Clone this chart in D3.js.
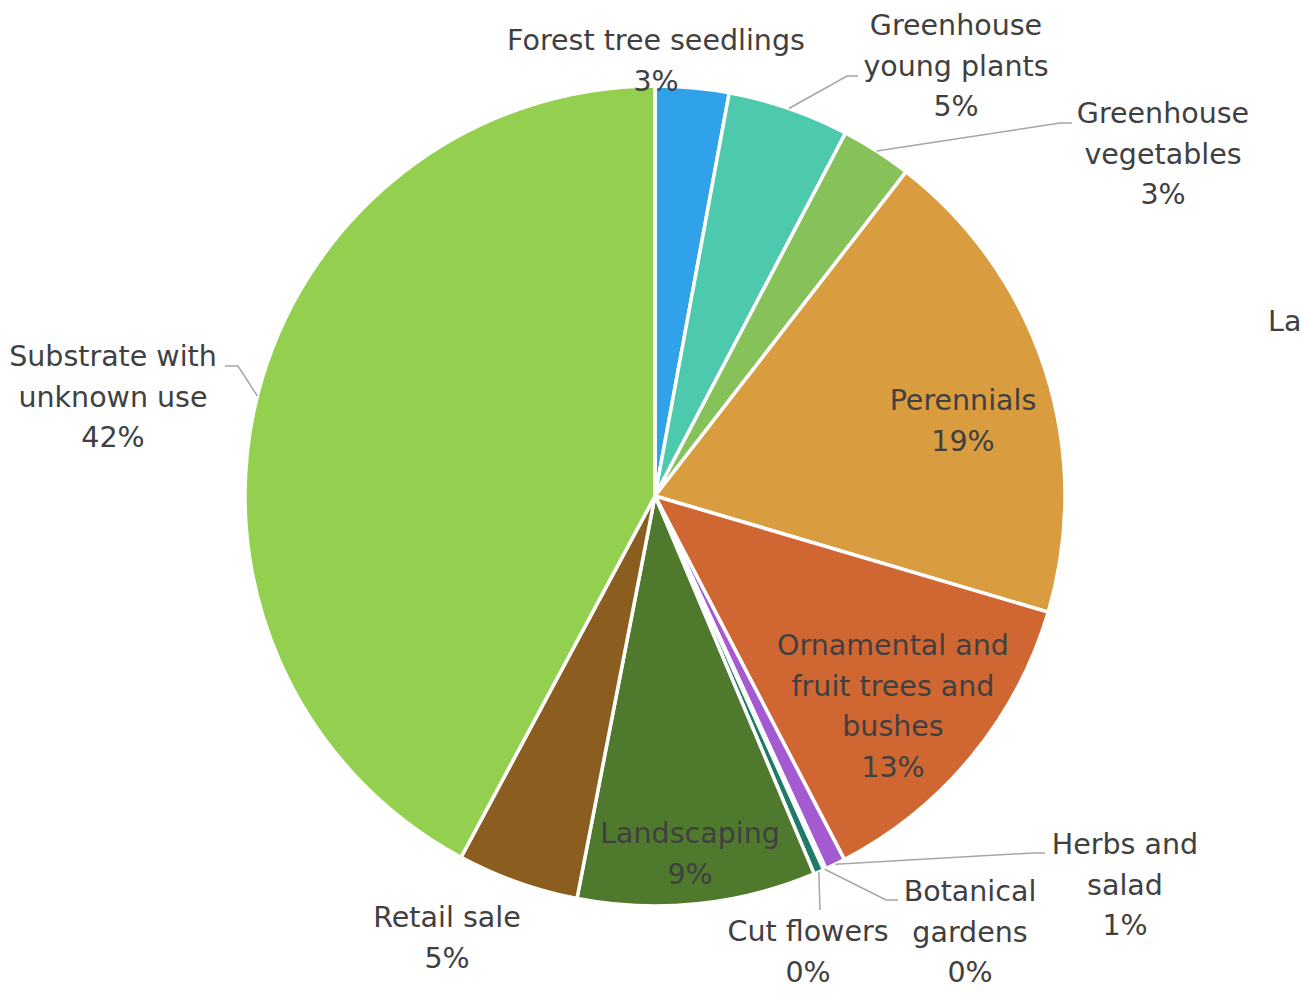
<!DOCTYPE html>
<html><head><meta charset="utf-8">
<script src="https://cdn.jsdelivr.net/npm/d3@7"></script>
<style>html,body{margin:0;padding:0;background:#fff;overflow:hidden}</style>
</head><body>
<svg id="chart" width="1301" height="998"></svg>
<script>
const categories = ["Forest tree seedlings","Greenhouse young plants","Greenhouse vegetables","Perennials","Ornamental and fruit trees and bushes","Herbs and salad","Botanical gardens","Cut flowers","Landscaping","Retail sale","Substrate with unknown use"];
const values = [2.9, 4.8, 2.8, 19.1, 12.8, 0.8, 0.1, 0.4, 9.4, 4.8, 42.2];
const percentLabels = ["3%","5%","3%","19%","13%","1%","0%","0%","9%","5%","42%"];
const labelLines = [["Forest tree seedlings"],["Greenhouse","young plants"],["Greenhouse","vegetables"],["Perennials"],["Ornamental and","fruit trees and","bushes"],["Herbs and","salad"],["Botanical","gardens"],["Cut flowers"],["Landscaping"],["Retail sale"],["Substrate with","unknown use"]];
const colors = ["#30a2e9","#4dc9ae","#86c159","#d99c3f","#d06733","#a45bd2","#6a9ec0","#1e7b66","#4f7a2d","#8b5e1f","#93d050"];

// layout (label anchor = centre x, first-line centre y; elbow = leader line bend)
const layout = [
  {x:656, y:40, line:false},
  {x:956, y:25, elbow:[847,76], end:[858,76], line:true},
  {x:1163, y:113, elbow:[1060,123], end:[1072,123], line:true},
  {x:963, y:400, line:false},
  {x:893, y:645, line:false},
  {x:1125, y:844, elbow:[1033,853], end:[1045,853], line:true},
  {x:970, y:891, elbow:[886,900], end:[898,900], line:true},
  {x:808, y:931, elbow:[820,910], end:[820,910], line:true},
  {x:690, y:833, line:false},
  {x:447, y:917, line:false},
  {x:113, y:356, elbow:[238,366], end:[225,366], line:true}
];

const svg = d3.select("#chart");
const cx = 655, cy = 496, R = 410;
const g = svg.append("g").attr("transform", `translate(${cx},${cy})`);
const pie = d3.pie().sort(null).value(d => d)(values);
const arc = d3.arc().innerRadius(0).outerRadius(R);

g.selectAll("path.slice").data(pie).enter().append("path")
  .attr("class","slice")
  .attr("d", arc)
  .attr("fill", (d,i) => colors[i])
  .attr("stroke", "#fff")
  .attr("stroke-width", 3.5)
  .attr("stroke-linejoin","round");

// leader lines
const lineG = svg.append("g");
pie.forEach((d,i) => {
  const L = layout[i];
  if (!L.line) return;
  const a = (d.startAngle + d.endAngle)/2;
  const sx = cx + Math.sin(a)*R, sy = cy - Math.cos(a)*R;
  const pts = [[sx,sy], L.elbow, L.end];
  lineG.append("path")
    .attr("d", d3.line()(pts))
    .attr("fill","none")
    .attr("stroke","#a6a6a6")
    .attr("stroke-width",1.5);
});

// labels
const fontFam = "'DejaVu Sans', 'Noto Sans', sans-serif";
const fs = 28.5;
const lblG = svg.append("g");
const lh = 40.7;
categories.forEach((c,i) => {
  const L = layout[i];
  const lines = labelLines[i].concat([percentLabels[i]]);
  const t = lblG.append("text")
    .attr("text-anchor","middle")
    .attr("font-family", fontFam)
    .attr("font-size", fs)
    .attr("fill","#404040");
  lines.forEach((s,k) => {
    t.append("tspan").attr("x", L.x).attr("y", L.y + k*lh).attr("dy","0.35em").text(s);
  });
});
// partially visible label at right edge, as in the reference
lblG.append("text").attr("x",1268).attr("y",321).attr("dy","0.35em")
  .attr("font-family", fontFam).attr("font-size",fs).attr("fill","#404040").text("La");
</script>
</body></html>
